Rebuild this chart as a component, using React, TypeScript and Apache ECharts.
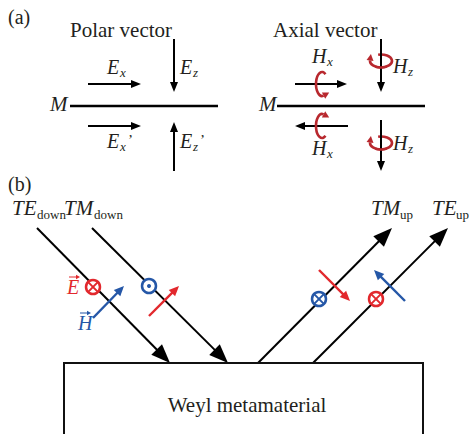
import React, { useEffect, useRef } from "react";
import * as echarts from "echarts";

// Labels of the diagram
const panelLabels = ["(a)", "(b)"];
const titles = ["Polar vector", "Axial vector"];
const materialLabel = "Weyl metamaterial";
const beamLabels = [
  { main: "TE", sub: "down" },
  { main: "TM", sub: "down" },
  { main: "TM", sub: "up" },
  { main: "TE", sub: "up" },
];

const INK = "#231f20";
const RED = "#e2282d";
const DRED = "#b8282e";
const BLUE = "#2557a7";
const SERIF = "Liberation Serif";

echarts.graphic.registerShape(
  "ringArc",
  echarts.graphic.extendPath("M -2.85 -6.28 A 11 6.5 0 1 1 -10.96 -0.57", {})
);
echarts.graphic.registerShape(
  "ringFront",
  echarts.graphic.extendPath("M 5.5 5.63 A 11 6.5 0 0 1 -5.5 5.63", {})
);
echarts.graphic.registerShape(
  "ringHead",
  echarts.graphic.extendPath("M -10.08 -6.9 L -7.5 -0.06 L -14.42 -1.08 Z", {})
);
echarts.graphic.registerShape(
  "cArc",
  echarts.graphic.extendPath("M 3.44 -9.83 A 6 12 0 1 0 1.55 11.59", {})
);
echarts.graphic.registerShape(
  "cHead",
  echarts.graphic.extendPath("M 7.2 8.6 L 3.2 14.67 L -0.1 8.51 Z", {})
);

function arrow(
  x1: number, y1: number, x2: number, y2: number,
  color: string, lw: number, hl: number, hw: number
) {
  const dx = x2 - x1, dy = y2 - y1;
  const L = Math.hypot(dx, dy);
  const ux = dx / L, uy = dy / L;
  const bx = x2 - ux * hl, by = y2 - uy * hl;
  const px = -uy, py = ux;
  return [
    {
      type: "line",
      shape: { x1, y1, x2: x2 - ux * hl * 0.7, y2: y2 - uy * hl * 0.7 },
      style: { stroke: color, lineWidth: lw },
    },
    {
      type: "polygon",
      shape: {
        points: [
          [x2, y2],
          [bx + (px * hw) / 2, by + (py * hw) / 2],
          [bx - (px * hw) / 2, by - (py * hw) / 2],
        ],
      },
      style: { fill: color },
    },
  ];
}

function txt(
  s: string, x: number, bl: number, fs: number,
  italic = false, color = INK, align = "left"
) {
  return {
    type: "text",
    x,
    y: bl - 0.34 * fs,
    style: {
      text: s,
      x: 0,
      y: 0,
      fontFamily: SERIF,
      fontSize: fs,
      fontStyle: italic ? "italic" : "normal",
      fill: color,
      align,
      verticalAlign: "middle",
      textAlign: align,
      textVerticalAlign: "middle",
    },
  };
}

function ring(cx: number, cy: number, lineX: number, y1: number, y2: number) {
  const st = { stroke: DRED, lineWidth: 2.6, fill: "none" };
  return [
    { type: "ringArc", x: cx, y: cy, style: st },
    ...arrow(lineX, y1, lineX, y2, "#000", 2, 10, 8),
    { type: "ringFront", x: cx, y: cy, style: st },
    { type: "ringHead", x: cx, y: cy, style: { fill: DRED } },
  ];
}

function cRot(cx: number, cy: number, flip: boolean) {
  return [
    { type: "cArc", x: cx, y: cy, scaleY: flip ? -1 : 1, style: { stroke: DRED, lineWidth: 2.6, fill: "none" } },
    { type: "cHead", x: cx, y: cy, scaleY: flip ? -1 : 1, style: { fill: DRED } },
  ];
}

function circ(cx: number, cy: number, color: string, kind: "cross" | "dot") {
  const r = 7;
  const out: any[] = [
    { type: "circle", shape: { cx, cy, r }, style: { stroke: color, lineWidth: 2.5, fill: "#fff" } },
  ];
  if (kind === "cross") {
    const d = r * 0.62;
    out.push({ type: "line", shape: { x1: cx - d, y1: cy - d, x2: cx + d, y2: cy + d }, style: { stroke: color, lineWidth: 2 } });
    out.push({ type: "line", shape: { x1: cx - d, y1: cy + d, x2: cx + d, y2: cy - d }, style: { stroke: color, lineWidth: 2 } });
  } else {
    out.push({ type: "circle", shape: { cx, cy, r: 2 }, style: { fill: color } });
  }
  return out;
}

function vecLabel(letter: string, x: number, bl: number, color: string) {
  const ay = bl - 17;
  return [
    txt(letter, x, bl, 20, true, color),
    { type: "line", shape: { x1: x + 2, y1: ay, x2: x + 11, y2: ay }, style: { stroke: color, lineWidth: 1 } },
    { type: "polygon", shape: { points: [[x + 13, ay], [x + 9, ay - 2.2], [x + 9, ay + 2.2]] }, style: { fill: color } },
  ];
}

function buildElements() {
  const els: any[] = [];
  // panel (a)
  els.push(txt(panelLabels[0], 8, 24, 20));
  els.push(txt(titles[0], 70, 37, 21));
  els.push(txt(titles[1], 273, 37, 21));

  // polar
  els.push(...arrow(88, 84, 141, 84, "#000", 2, 10, 8));
  els.push(...arrow(174, 39, 174, 92, "#000", 2, 10, 8));
  els.push(...arrow(88, 126, 141, 126, "#000", 2, 10, 8));
  els.push(...arrow(174, 171, 174, 122, "#000", 2, 10, 8));
  els.push({ type: "line", shape: { x1: 70, y1: 106, x2: 218, y2: 106 }, style: { stroke: "#000", lineWidth: 2.6 } });
  els.push(txt("M", 50, 111, 21, true));
  els.push(txt("E", 107, 74, 20, true), txt("x", 120, 77, 13, true));
  els.push(txt("E", 180, 74, 20, true), txt("z", 193, 77, 13, true));
  els.push(txt("E", 107, 148, 20, true), txt("x", 120, 151, 13, true), txt("’", 128, 145, 15));
  els.push(txt("E", 180, 148, 20, true), txt("z", 193, 151, 13, true), txt("’", 200, 145, 15));

  // axial
  els.push(...arrow(295, 84, 347, 84, "#000", 2, 10, 8));
  els.push(...cRot(322, 84, false));
  els.push(...arrow(348, 126, 295, 126, "#000", 2, 10, 8));
  els.push(...cRot(322, 126, true));
  els.push(...ring(381, 61, 381, 39, 92));
  els.push(...ring(381, 143, 381, 120, 171));
  els.push({ type: "line", shape: { x1: 277, y1: 106, x2: 425, y2: 106 }, style: { stroke: "#000", lineWidth: 2.6 } });
  els.push(txt("M", 259, 111, 21, true));
  els.push(txt("H", 312, 63, 20, true), txt("x", 327, 66, 13, true));
  els.push(txt("H", 393, 73, 20, true), txt("z", 408, 76, 13, true));
  els.push(txt("H", 312, 155, 20, true), txt("x", 327, 158, 13, true));
  els.push(txt("H", 393, 150, 20, true), txt("z", 408, 153, 13, true));

  // panel (b)
  els.push(txt(panelLabels[1], 8, 191, 20));
  const mainX = [12, 64, 371, 432];
  const subX = [37, 94, 400, 456];
  beamLabels.forEach((b, i) => {
    els.push(txt(b.main, mainX[i], 215, 21, true));
    els.push(txt(b.sub, subX[i], 219, 13));
  });
  els.push(...arrow(37, 228, 170, 363, "#000", 2, 19, 15));
  els.push(...arrow(92, 228, 228, 363, "#000", 2, 19, 15));
  els.push(...arrow(258, 363, 392, 228, "#000", 2, 19, 15));
  els.push(...arrow(313, 363, 448, 228, "#000", 2, 19, 15));

  els.push(...circ(93, 287, RED, "cross"));
  els.push(...circ(149, 286, BLUE, "dot"));
  els.push(...circ(319, 299, BLUE, "cross"));
  els.push(...circ(376, 299, RED, "cross"));
  els.push(...arrow(93, 318, 124, 286, BLUE, 2.4, 10, 9));
  els.push(...arrow(149, 316, 179, 286, RED, 2.4, 10, 9));
  els.push(...arrow(319, 270, 350, 301, RED, 2.4, 10, 9));
  els.push(...arrow(405, 301, 374, 270, BLUE, 2.4, 10, 9));
  els.push(...vecLabel("E", 67, 294, RED));
  els.push(...vecLabel("H", 78, 330, BLUE));

  els.push({ type: "rect", shape: { x: 64, y: 363, width: 359, height: 90 }, style: { stroke: "#111", lineWidth: 2, fill: "#fff" } });
  els.push(txt(materialLabel, 247, 412, 21, false, INK, "center"));
  return els;
}

export default function App() {
  const ref = useRef<HTMLDivElement>(null);
  useEffect(() => {
    if (!ref.current) return;
    const chart = echarts.init(ref.current, null, { renderer: "svg" });
    chart.setOption({
      animation: false,
      backgroundColor: "#fff",
      graphic: { elements: buildElements() },
    });
    return () => chart.dispose();
  }, []);
  return (
    <div
      ref={ref}
      style={{ position: "fixed", left: 0, top: 0, width: 469, height: 434, background: "#fff" }}
    />
  );
}
